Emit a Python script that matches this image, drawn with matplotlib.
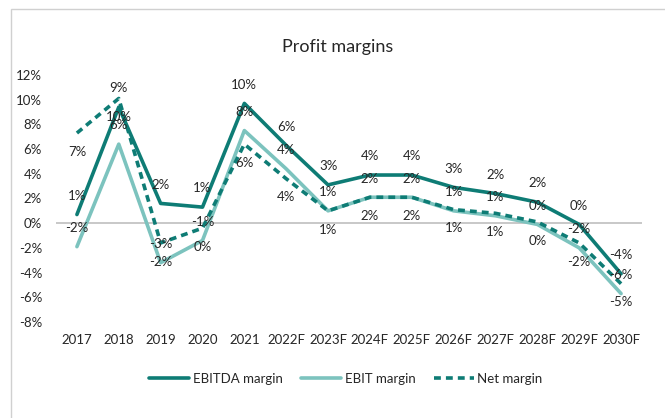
import numpy as np
import matplotlib
matplotlib.use("Agg")
import matplotlib.pyplot as plt
from matplotlib.patches import Rectangle

plt.rcParams['font.family'] = ['Lato', 'DejaVu Sans']

years = ['2017', '2018', '2019', '2020', '2021', '2022F', '2023F', '2024F',
         '2025F', '2026F', '2027F', '2028F', '2029F', '2030F']
ebitda = [0.7, 9.4, 1.6, 1.3, 9.7, 6.3, 3.1, 3.9, 3.9, 2.9, 2.4, 1.7, -0.1, -4.1]
ebit = [-1.9, 6.4, -3.2, -1.4, 7.5, 4.4, 1.0, 2.1, 2.1, 1.0, 0.6, -0.1, -2.0, -5.7]
net = [7.3, 10.1, -1.6, -0.4, 6.4, 3.6, 1.0, 2.1, 2.1, 1.1, 0.8, 0.1, -1.6, -4.9]

dark = '#0E7C75'
light = '#7CC3BE'

fig = plt.figure(figsize=(6.65, 4.18), dpi=100)
ax = fig.add_axes([0.0842, 0.2297, 0.8812, 0.5909])

x = np.arange(len(years))
ax.plot(x, ebitda, color=dark, lw=2.6, label='EBITDA margin', solid_capstyle='round', zorder=3)
ax.plot(x, ebit, color=light, lw=2.6, label='EBIT margin', solid_capstyle='round', zorder=2)
ax.plot(x, net, color=dark, lw=2.6, ls=(0, (1.9, 1.4)), label='Net margin', zorder=4)

# data labels: EBITDA / EBIT above, net below
for series, off in [(ebitda, 13.5), (ebit, 13.5), (net, -13.5)]:
    for xi, v in zip(x, series):
        ax.annotate(f"{v:.0f}%".replace('-0%', '0%'), (xi, v), xytext=(0, off),
                    textcoords='offset points', ha='center', va='center',
                    fontsize=9.5, color='#262626', zorder=5)

ax.axhline(0, color='#BFBFBF', lw=1.2, zorder=1)
ax.set_xlim(-0.5, len(years) - 0.5)
ax.set_ylim(-8, 12)
ax.set_yticks(np.arange(-8, 13, 2))
ax.set_yticklabels([f"{t}%" for t in range(-8, 13, 2)])
ax.set_xticks(x)
ax.set_xticklabels(years)
ax.tick_params(axis='both', length=0, labelsize=9.5, colors='#262626')
ax.tick_params(axis='y', pad=10)
ax.tick_params(axis='x', pad=9)
for s in ax.spines.values():
    s.set_visible(False)
ax.patch.set_alpha(0)

fig.text(338 / 665, 1 - 47 / 418, 'Profit margins', ha='center', va='center',
         fontsize=13, color='#262626')

fig.legend(loc='center', bbox_to_anchor=(346 / 665, 1 - 379 / 418), ncol=3,
           frameon=False, fontsize=9.5, handlelength=3.0, columnspacing=1.4,
           handletextpad=0.3, labelcolor='#262626')

fig.patches.append(Rectangle((11 / 665, -0.1), 1.1, 1.1 - 9 / 418,
                             transform=fig.transFigure, fill=False,
                             edgecolor='#D0D0D0', lw=1.0))

fig.savefig('out.png', dpi=100)
